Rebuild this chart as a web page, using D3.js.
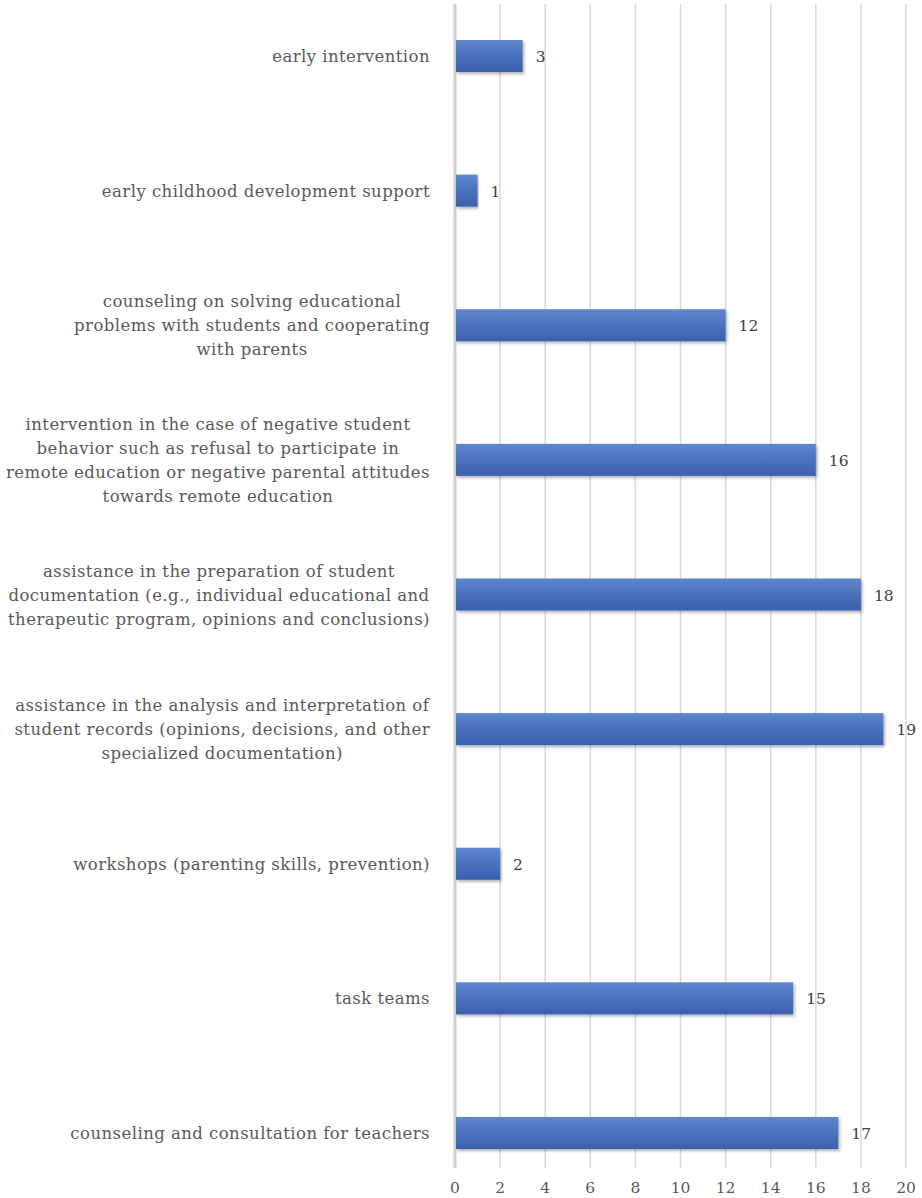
<!DOCTYPE html>
<html>
<head>
<meta charset="utf-8">
<script src="https://cdn.jsdelivr.net/npm/d3@7"></script>
<style>
	body { margin: 0; background: #fff; }
	svg { display: block; }
</style>
</head>
<body>
<div id="chart"></div>
<script>
// Categories, top to bottom (line breaks as in the original labels)
var categories = [
	'early intervention',
	'early childhood development support',
	'counseling on solving educational\nproblems with students and cooperating\nwith parents',
	'intervention in the case of negative student\nbehavior such as refusal to participate in\nremote education or negative parental attitudes\ntowards remote education',
	'assistance in the preparation of student\ndocumentation (e.g., individual educational and\ntherapeutic program, opinions and conclusions)',
	'assistance in the analysis and interpretation of\nstudent records (opinions, decisions, and other\nspecialized documentation)',
	'workshops (parenting skills, prevention)',
	'task teams',
	'counseling and consultation for teachers'
];
var values = [3, 1, 12, 16, 18, 19, 2, 15, 17];
var ticks = [0, 2, 4, 6, 8, 10, 12, 14, 16, 18, 20];

var width = 922, height = 1198;
var svg = d3.select('#chart').append('svg')
	.attr('width', width).attr('height', height);

// Bar gradient and soft shadow
var defs = svg.append('defs');
var grad = defs.append('linearGradient').attr('id', 'barGrad')
	.attr('x1', 0).attr('y1', 0).attr('x2', 0).attr('y2', 1);
grad.append('stop').attr('offset', '0%').attr('stop-color', '#6086cd');
grad.append('stop').attr('offset', '50%').attr('stop-color', '#4a71bd');
grad.append('stop').attr('offset', '100%').attr('stop-color', '#3a61ae');
defs.append('filter').attr('id', 'shadow')
	.attr('x', '-5%').attr('y', '-20%').attr('width', '110%').attr('height', '160%')
	.append('feDropShadow')
	.attr('dx', 1.5).attr('dy', 2).attr('stdDeviation', 1.5)
	.attr('flood-color', '#000').attr('flood-opacity', 0.3);

var x = d3.scaleLinear().domain([0, 20]).range([455, 906]);
var y = d3.scaleBand().domain(categories)
	.range([-11.3, 1200.3]).paddingInner(0.762).paddingOuter(0.381);

var gridTop = 4, gridBottom = 1168;

// Vertical grid lines
svg.append('g').selectAll('line').data(ticks.slice(1)).enter().append('line')
	.attr('x1', d => x(d)).attr('x2', d => x(d))
	.attr('y1', gridTop).attr('y2', gridBottom)
	.style('stroke', '#d9d9d9').style('stroke-width', 1.5);

// Category axis line
svg.append('line')
	.attr('x1', x(0)).attr('x2', x(0)).attr('y1', gridTop).attr('y2', gridBottom)
	.style('stroke', '#d0d0d0').style('stroke-width', 3);

// Tick labels
svg.append('g').selectAll('text').data(ticks).enter().append('text')
	.attr('x', d => x(d)).attr('y', 1193)
	.attr('text-anchor', 'middle')
	.style('font-family', 'DejaVu Serif').style('font-size', '15.5px')
	.style('fill', '#595959')
	.text(d => d);

// Bars
svg.append('g').selectAll('rect').data(values).enter().append('rect')
	.attr('x', x(0) + 1)
	.attr('y', (d, i) => y(categories[i]))
	.attr('width', d => x(d) - x(0) - 1)
	.attr('height', y.bandwidth())
	.style('fill', 'url(#barGrad)')
	.attr('filter', 'url(#shadow)');

// Value labels
svg.append('g').selectAll('text').data(values).enter().append('text')
	.attr('x', d => x(d) + 13)
	.attr('y', (d, i) => y(categories[i]) + y.bandwidth() / 2 + 6)
	.style('font-family', 'DejaVu Serif').style('font-size', '15.5px')
	.style('fill', '#404040')
	.text(d => d);

// Category labels: lines centred within a block that is right-aligned at x = 430
var labelRight = 430, lineHeight = 24;
categories.forEach(function(c) {
	var lines = c.split('\n');
	var cy = y(c) + y.bandwidth() / 2;
	var g = svg.append('g');
	var texts = g.selectAll('text').data(lines).enter().append('text')
		.attr('y', (l, i) => cy + (i - (lines.length - 1) / 2) * lineHeight + 6)
		.attr('text-anchor', 'middle')
		.style('font-family', 'DejaVu Serif').style('font-size', '16.5px')
		.style('letter-spacing', '0.45px')
		.style('fill', '#595959')
		.text(l => l);
	var maxW = d3.max(texts.nodes(), n => n.getComputedTextLength());
	texts.attr('x', labelRight - maxW / 2);
});
</script>
</body>
</html>
